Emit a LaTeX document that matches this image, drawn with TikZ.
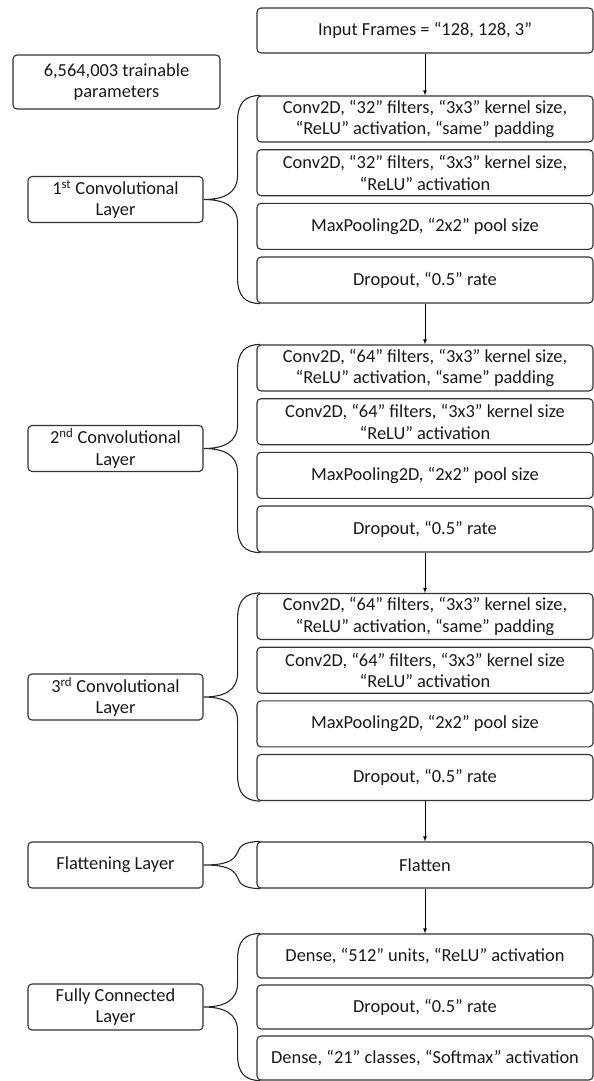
\documentclass[tikz,border=0pt]{standalone}
\usepackage{fontspec}
\setmainfont{Carlito}
\usepackage{tikz}
\usetikzlibrary{arrows,calc}

% curly brace from a group label to its first and last layer box
\newcommand{\groupbrace}[3]{%
  \draw[brace] let \p1=(#2.north west), \p2=(#3.south west), \p3=(#1.east) in
    (\x1+4pt,\y1) .. controls (\x3+41pt,\y1) and (\x3+34pt,\y1-8pt) .. (\x3+34pt,\y1-26pt)
    -- (\x3+34pt,\y3+24pt) .. controls (\x3+34pt,\y3+6pt) and (\x3+20pt,\y3) .. (\x3,\y3)
    .. controls (\x3+20pt,\y3) and (\x3+34pt,\y3-6pt) .. (\x3+34pt,\y3-24pt)
    -- (\x3+34pt,\y2+26pt) .. controls (\x3+34pt,\y2+8pt) and (\x3+41pt,\y2) .. (\x2+4pt,\y2);
}

\begin{document}
\begin{tikzpicture}[x=1pt,y=-1pt,
  every node/.style={font=\fontsize{18.4}{21.5}\selectfont, text=black!90},
  layer/.style={rectangle, rounded corners=4pt, draw=black!80, line width=1.1pt,
    minimum width=336pt, minimum height=46pt, inner sep=0pt, align=center},
  group/.style={rectangle, rounded corners=4pt, draw=black!80, line width=1.1pt,
    minimum width=175pt, minimum height=46pt, inner sep=0pt, align=center},
  brace/.style={draw=black!85, line width=1.1pt},
  flow/.style={->, >=latex, line width=0.8pt}
]
\useasboundingbox (0,0) rectangle (594,1081);

% input and parameter count
\node[layer, minimum height=45pt] (in) at (425,30.5) {Input Frames = “128, 128, 3”};
\node[group, minimum width=207pt, minimum height=54pt] (params) at (116.5,82) {6,564,003 trainable\\parameters};

% 1st convolutional layer
\node[layer] (c1a) at (425,119) {Conv2D, “32” filters, “3x3” kernel size,\\“ReLU” activation, “same” padding};
\node[layer] (c1b) at (425,172.7) {Conv2D, “32” filters, “3x3” kernel size,\\“ReLU” activation};
\node[layer] (mp1) at (425,226.3) {MaxPooling2D, “2x2” pool size};
\node[layer] (dr1) at (425,280) {Dropout, “0.5” rate};
\node[group] (g1) at (115.5,199.5) {1\textsuperscript{st} Convolutional\\Layer};

% 2nd convolutional layer
\node[layer] (c2a) at (425,368) {Conv2D, “64” filters, “3x3” kernel size,\\“ReLU” activation, “same” padding};
\node[layer] (c2b) at (425,421.7) {Conv2D, “64” filters, “3x3” kernel size\\“ReLU” activation};
\node[layer] (mp2) at (425,475.3) {MaxPooling2D, “2x2” pool size};
\node[layer] (dr2) at (425,529) {Dropout, “0.5” rate};
\node[group] (g2) at (115.5,448.5) {2\textsuperscript{nd} Convolutional\\Layer};

% 3rd convolutional layer
\node[layer] (c3a) at (425,616.5) {Conv2D, “64” filters, “3x3” kernel size,\\“ReLU” activation, “same” padding};
\node[layer] (c3b) at (425,670.2) {Conv2D, “64” filters, “3x3” kernel size\\“ReLU” activation};
\node[layer] (mp3) at (425,723.8) {MaxPooling2D, “2x2” pool size};
\node[layer] (dr3) at (425,777.5) {Dropout, “0.5” rate};
\node[group] (g3) at (115.5,697) {3\textsuperscript{rd} Convolutional\\Layer};

% flattening layer
\node[layer] (fl) at (425,865) {Flatten};
\node[group] (gf) at (115.5,865) {Flattening Layer};

% fully connected layer
\node[layer, minimum height=44pt] (d1) at (425,956) {Dense, “512” units, “ReLU” activation};
\node[layer, minimum height=44pt] (dr4) at (425,1007) {Dropout, “0.5” rate};
\node[layer, minimum height=44pt] (d2) at (425,1058) {Dense, “21” classes, “Softmax” activation};
\node[group] (gc) at (115.5,1007) {Fully Connected\\Layer};

\draw[flow] (in) -- (c1a);
\draw[flow] (dr1) -- (c2a);
\draw[flow] (dr2) -- (c3a);
\draw[flow] (dr3) -- (fl);
\draw[flow] (fl) -- (d1);

\groupbrace{g1}{c1a}{dr1}
\groupbrace{g2}{c2a}{dr2}
\groupbrace{g3}{c3a}{dr3}
\groupbrace{gc}{d1}{d2}
\draw[brace] let \p1=(fl.north west), \p2=(fl.south west), \p3=(gf.east) in
  (\x1+4pt,\y1) .. controls (\x3+40pt,\y1) and (\x3+36pt,\y1-5pt) .. (\x3+34pt,\y1-11pt)
  .. controls (\x3+30pt,\y3+3pt) and (\x3+20pt,\y3) .. (\x3,\y3)
  .. controls (\x3+20pt,\y3) and (\x3+30pt,\y3-3pt) .. (\x3+34pt,\y2+11pt)
  .. controls (\x3+36pt,\y2+5pt) and (\x3+40pt,\y2) .. (\x2+4pt,\y2);
\end{tikzpicture}
\end{document}
